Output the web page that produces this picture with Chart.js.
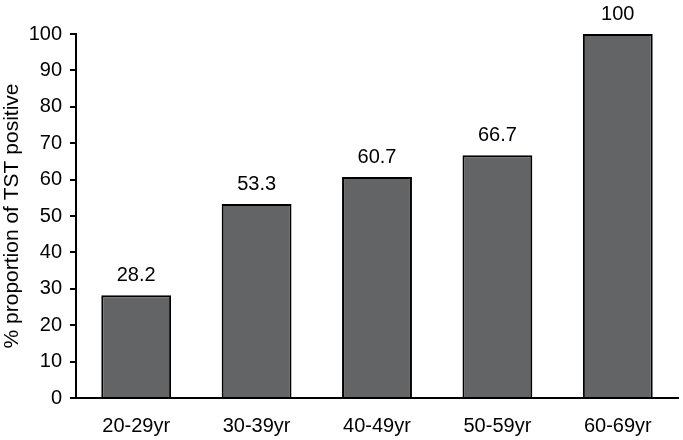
<!DOCTYPE html>
<html>
<head>
<meta charset="utf-8">
<script src="https://cdn.jsdelivr.net/npm/chart.js@4/dist/chart.umd.min.js"></script>
<style>
  html, body { margin: 0; padding: 0; background: #fff; }
  #wrap { width: 683px; height: 440px; }
</style>
</head>
<body>
<div id="wrap"><canvas id="c" width="683" height="440"></canvas></div>
<script>
const ageGroups = ['20-29yr', '30-39yr', '40-49yr', '50-59yr', '60-69yr'];
const tstPositive = [28.2, 53.3, 60.7, 66.7, 100];
const yTicks = [0, 10, 20, 30, 40, 50, 60, 70, 80, 90, 100];

const family = 'Liberation Sans, Arial, sans-serif';
const font = { family, size: 20 };

// draws the value above each bar
const valueLabels = {
  id: 'valueLabels',
  afterDatasetsDraw(chart) {
    const ctx = chart.ctx;
    const meta = chart.getDatasetMeta(0);
    ctx.save();
    ctx.font = `${font.size}px ${family}`;
    ctx.fillStyle = '#000';
    ctx.textAlign = 'center';
    ctx.textBaseline = 'alphabetic';
    meta.data.forEach((bar, i) => {
      ctx.fillText(String(tstPositive[i]), bar.x, bar.y - 14);
    });
    ctx.restore();
  }
};

new Chart(document.getElementById('c'), {
  type: 'bar',
  data: {
    labels: ageGroups,
    datasets: [{
      data: tstPositive,
      backgroundColor: '#636466',
      borderColor: '#000',
      borderWidth: 2,
      borderSkipped: 'bottom',
      categoryPercentage: 1,
      barPercentage: 0.58
    }]
  },
  options: {
    responsive: false,
    animation: false,
    layout: { padding: { top: 34, right: 5, left: 0, bottom: 0 } },
    plugins: {
      legend: { display: false },
      tooltip: { enabled: false }
    },
    scales: {
      x: {
        grid: { display: false },
        border: { display: true, color: '#000', width: 2 },
        ticks: { color: '#000', font, padding: 8 },
        afterFit(scale) { scale.height = 42; }
      },
      y: {
        min: 0,
        max: 100,
        afterBuildTicks(scale) { scale.ticks = yTicks.map(v => ({ value: v })); },
        grid: { drawOnChartArea: false, drawTicks: true, tickLength: 6, color: '#000', lineWidth: 2 },
        border: { display: true, color: '#000', width: 2 },
        ticks: { color: '#000', font, padding: 8 },
        title: {
          display: true,
          text: '% proportion of TST positive',
          color: '#000',
          font: { family, size: 21 },
          padding: { top: 0, bottom: 2 }
        },
        afterFit(scale) { scale.width = 76; }
      }
    }
  },
  plugins: [valueLabels]
});
</script>
</body>
</html>
